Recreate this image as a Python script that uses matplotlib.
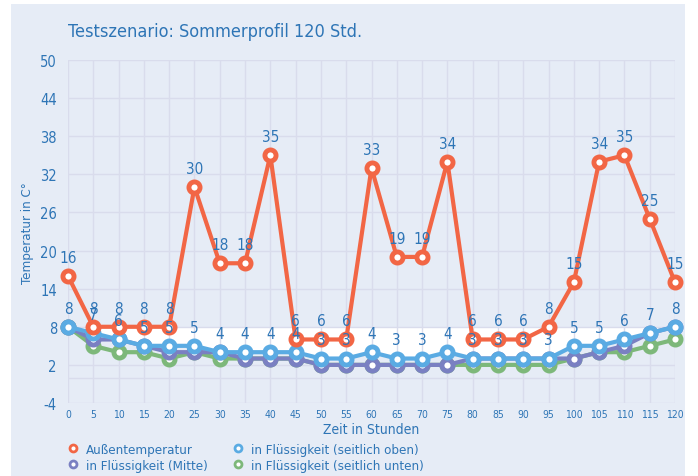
import matplotlib
matplotlib.use("Agg")
import matplotlib.pyplot as plt
from matplotlib.patches import Rectangle
from matplotlib.lines import Line2D

hours = [0, 5, 10, 15, 20, 25, 30, 35, 40, 45, 50, 55, 60, 65, 70, 75, 80, 85, 90, 95, 100, 105, 110, 115, 120]
aussen = [16, 8, 8, 8, 8, 30, 18, 18, 35, 6, 6, 6, 33, 19, 19, 34, 6, 6, 6, 8, 15, 34, 35, 25, 15]
mitte = [8, 6, 6, 5, 4, 4, 4, 3, 3, 3, 2, 2, 2, 2, 2, 2, 3, 3, 3, 3, 3, 4, 5, 7, 8]
oben = [8, 7, 6, 5, 5, 5, 4, 4, 4, 4, 3, 3, 4, 3, 3, 4, 3, 3, 3, 3, 5, 5, 6, 7, 8]
unten = [8, 5, 4, 4, 3, 4, 3, 3, 3, 3, 2, 2, 2, 2, 2, 2, 2, 2, 2, 2, 3, 4, 4, 5, 6]
names = ["Außentemperatur", "in Flüssigkeit (Mitte)", "in Flüssigkeit (seitlich oben)", "in Flüssigkeit (seitlich unten)"]
title = "Testszenario: Sommerprofil 120 Std."
yticks = [-4, 2, 8, 14, 20, 26, 32, 38, 44, 50]
xticks = hours

plt.rcParams['font.family'] = ['DejaVu Sans']
plt.rcParams['font.stretch'] = 'condensed'
plt.rcParams['axes.unicode_minus'] = False

TXT = "#2e75b6"
C_OR = "#f26645"
C_BL = "#5aabe3"
C_PU = "#7a80c2"
C_GR = "#7db87a"
BG = "#e6ecf6"
GRID = "#d9dcec"

fig = plt.figure(figsize=(6.98, 4.77), dpi=100)
fig.patch.set_facecolor("white")
fig.add_artist(Rectangle((11 / 698, 0), (685 - 11) / 698, 1 - 5 / 477,
                         transform=fig.transFigure, facecolor=BG, edgecolor="none", zorder=-10))

ax = fig.add_axes([68 / 698, 1 - 404 / 477, (675 - 68) / 698, (404 - 61) / 477])
ax.set_facecolor(BG)
ax.set_xlim(0, 120)
ax.set_ylim(-4, 50)
ax.set_xticks(xticks)
ax.set_yticks(yticks)
ax.grid(True, color=GRID, linewidth=1, zorder=0)
ax.axhline(0, color=GRID, linewidth=1, zorder=0)
for s in ax.spines.values():
    s.set_visible(False)
ax.tick_params(length=0, colors=TXT)
ax.tick_params(axis='y', labelsize=10.5, pad=8)
ax.tick_params(axis='x', labelsize=7.5, pad=4)

ax.fill_between(hours, oben, [8] * len(hours), color="white", zorder=1, linewidth=0)

mk = dict(marker='o', markersize=8, markeredgewidth=3.5, markerfacecolor='white', linewidth=3, clip_on=False)
ax.plot(hours, unten, color=C_GR, markeredgecolor=C_GR, zorder=2, **mk)
ax.plot(hours, mitte, color=C_PU, markeredgecolor=C_PU, zorder=3, **mk)
ax.plot(hours, oben, color=C_BL, markeredgecolor=C_BL, zorder=4, **mk)
ax.plot(hours, aussen, color=C_OR, markeredgecolor=C_OR, zorder=5, **mk)

for x, v in zip(hours, aussen):
    ax.annotate(str(v), (x, v), xytext=(0, 8), textcoords='offset points', ha='center', va='bottom',
                color=TXT, fontsize=11, zorder=6)
for x, v in zip(hours, oben):
    ax.annotate(str(v), (x, v), xytext=(0, 8), textcoords='offset points', ha='center', va='bottom',
                color=TXT, fontsize=11, zorder=6)

fig.text(68 / 698, 1 - 32 / 477, title, color=TXT, fontsize=13, ha='left', va='center')
fig.text(28 / 698, 1 - 233 / 477, "Temperatur in C°", color=TXT, fontsize=9.5, rotation=90, ha='center', va='center')
fig.text(371 / 698, 1 - 430 / 477, "Zeit in Stunden", color=TXT, fontsize=10, ha='center', va='center')

handles = [Line2D([], [], linestyle='none', marker='o', markersize=5, markeredgewidth=2,
                  markerfacecolor='white', markeredgecolor=c) for c in (C_OR, C_PU, C_BL, C_GR)]
leg = fig.legend(handles, names, loc='upper left', bbox_to_anchor=(66 / 698, 1 - 444 / 477), ncol=2,
                 frameon=False, fontsize=9.5, labelcolor=TXT, handlelength=1.0, handletextpad=0.5,
                 columnspacing=1.8, labelspacing=0.2, borderpad=0, borderaxespad=0)

fig.savefig("out.png", dpi=100, facecolor=fig.get_facecolor())
